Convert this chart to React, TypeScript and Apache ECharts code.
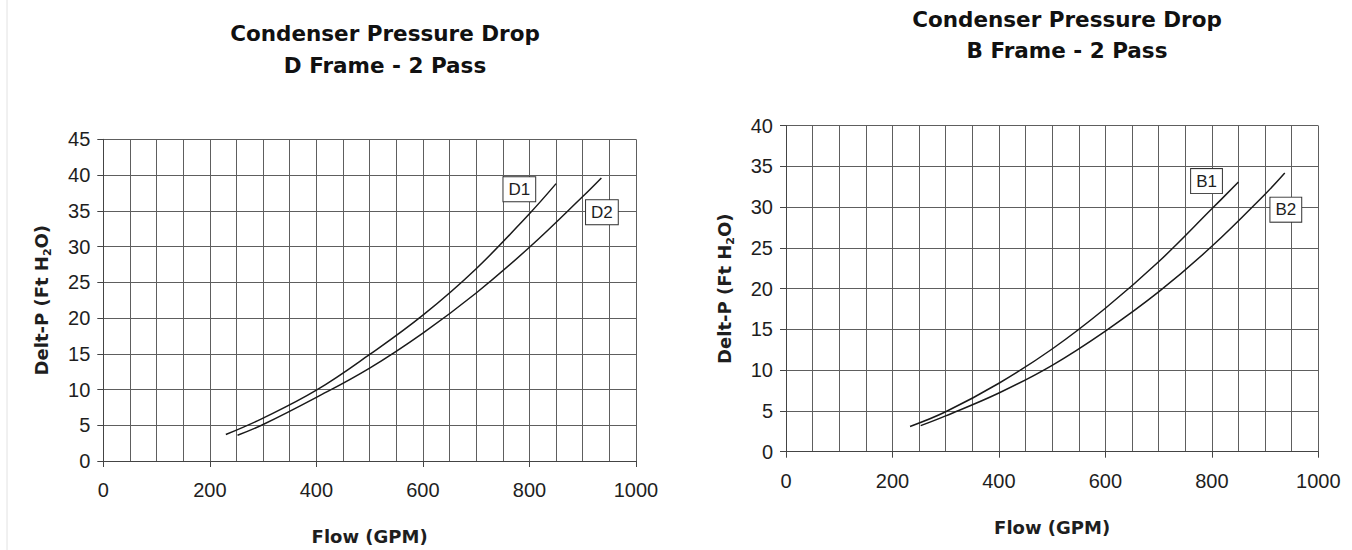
import React, { useEffect, useRef } from "react";
import * as echarts from "echarts";

// ---- Data ----
const d1Flow = [230, 300, 400, 500, 600, 700, 800, 850];
const d1Drop = [3.7, 6.0, 9.9, 14.9, 20.4, 26.9, 34.6, 38.8];
const d2Flow = [252, 300, 400, 500, 600, 700, 800, 900, 935];
const d2Drop = [3.6, 5.1, 8.9, 13.0, 17.9, 23.5, 29.9, 37.0, 39.6];

const b1Flow = [233, 300, 400, 500, 600, 700, 800, 850];
const b1Drop = [3.1, 4.9, 8.4, 12.6, 17.6, 23.3, 29.8, 33.1];
const b2Flow = [253, 300, 400, 500, 600, 700, 800, 900, 937];
const b2Drop = [3.2, 4.4, 7.2, 10.6, 14.8, 19.6, 25.2, 31.6, 34.2];

// curve tag positions (data coordinates)
const tagD1 = [781, 38.0];
const tagD2 = [936, 34.8];
const tagB1 = [790, 33.2];
const tagB2 = [939, 29.7];

const titleLeft = ["Condenser Pressure Drop", "D Frame - 2 Pass"];
const titleRight = ["Condenser Pressure Drop", "B Frame - 2 Pass"];
const xName = "Flow (GPM)";

const pairs = (xs: number[], ys: number[]) => xs.map((x, i) => [x, ys[i]]);

const GRID_C = "#5e5e5e";
const AXIS_C = "#444";
const TEXT_C = "#1e1e1e";
const BOLD_FONT = "DejaVu Sans";
const NUM_FONT = "Liberation Sans";

function xAxis(gridIndex: number, nameGap: number) {
  return {
    type: "value",
    gridIndex,
    min: 0,
    max: 1000,
    interval: 200,
    axisLine: { show: true, onZero: false, lineStyle: { color: AXIS_C, width: 1 } },
    axisTick: { show: true, length: 6, lineStyle: { color: AXIS_C } },
    minorTick: { show: false, splitNumber: 4 },
    splitLine: { show: true, lineStyle: { color: GRID_C, width: 1 } },
    minorSplitLine: { show: true, lineStyle: { color: GRID_C, width: 1 } },
    axisLabel: {
      margin: 19,
      fontSize: 20,
      color: TEXT_C,
      fontFamily: NUM_FONT,
      formatter: (v: number) => String(v),
    },
    name: xName,
    nameLocation: "middle",
    nameGap,
    nameTextStyle: { fontSize: 18, fontWeight: "bold", color: TEXT_C, fontFamily: BOLD_FONT },
  };
}

function yAxis(gridIndex: number, max: number) {
  return {
    type: "value",
    gridIndex,
    min: 0,
    max,
    interval: 5,
    axisLine: { show: true, lineStyle: { color: AXIS_C, width: 1 } },
    axisTick: { show: true, length: 6, lineStyle: { color: AXIS_C } },
    splitLine: { show: true, lineStyle: { color: GRID_C, width: 1 } },
    axisLabel: {
      margin: 13,
      fontSize: 20,
      color: TEXT_C,
      fontFamily: NUM_FONT,
      formatter: (v: number) => String(v),
    },
    name: "{b|Delt-P (Ft H}{s|2}{b|O)}",
    nameLocation: "middle",
    nameGap: 50,
    nameRotate: 90,
    nameTextStyle: {
      color: TEXT_C,
      rich: {
        b: { fontSize: 18, fontWeight: "bold", fontFamily: BOLD_FONT, color: TEXT_C, lineHeight: 24, verticalAlign: "middle" },
        s: { fontSize: 11, fontWeight: "bold", fontFamily: BOLD_FONT, color: TEXT_C, lineHeight: 11, verticalAlign: "bottom" },
      },
    },
  };
}

function curve(name: string, xi: number, xs: number[], ys: number[], tag: number[]) {
  return {
    type: "line",
    name,
    xAxisIndex: xi,
    yAxisIndex: xi,
    data: pairs(xs, ys),
    smooth: 0.4,
    showSymbol: false,
    lineStyle: { color: "#1a1a1a", width: 1.5 },
    markPoint: {
      symbol: "rect",
      symbolSize: 1,
      itemStyle: { color: "rgba(0,0,0,0)" },
      data: [{ coord: tag, name }],
      label: {
        show: true,
        position: "inside",
        formatter: name,
        fontSize: 17,
        fontFamily: NUM_FONT,
        color: TEXT_C,
        backgroundColor: "#fff",
        borderColor: "#333",
        borderWidth: 1,
        padding: [4, 5, 3, 5],
      },
    },
  };
}

function titleTexts(lines: string[], cx: number, ys: number[]) {
  return lines.map((t, i) => ({
    type: "text",
    x: cx,
    y: ys[i],
    style: {
      text: t,
      fill: "#111",
      font: `bold 21.5px "${BOLD_FONT}"`,
      textAlign: "center",
      textVerticalAlign: "middle",
    },
  }));
}

export default function App() {
  const ref = useRef<HTMLDivElement>(null);
  useEffect(() => {
    if (!ref.current) return;
    const chart = echarts.init(ref.current, undefined, { renderer: "svg" });
    chart.setOption({
      animation: false,
      backgroundColor: "#fff",
      grid: [
        { left: 103.3, right: 716, top: 139.3, bottom: 83.3 },
        { left: 786, right: 33.7, top: 125.7, bottom: 98.3 },
      ],
      xAxis: [xAxis(0, 66), xAxis(1, 67)],
      yAxis: [yAxis(0, 45), yAxis(1, 40)],
      series: [
        curve("D1", 0, d1Flow, d1Drop, tagD1),
        curve("D2", 0, d2Flow, d2Drop, tagD2),
        curve("B1", 1, b1Flow, b1Drop, tagB1),
        curve("B2", 1, b2Flow, b2Drop, tagB2),
      ],
      graphic: [
        {
          type: "line",
          shape: { x1: 7, y1: 0, x2: 7, y2: 550 },
          style: { stroke: "#e2e2e2", lineWidth: 1 },
        },
        ...titleTexts(titleLeft, 385, [33, 65]),
        ...titleTexts(titleRight, 1067, [19, 50]),
      ],
    });
    return () => chart.dispose();
  }, []);
  return (
    <div
      ref={ref}
      style={{ position: "absolute", left: 0, top: 0, width: 1352, height: 550 }}
    />
  );
}
